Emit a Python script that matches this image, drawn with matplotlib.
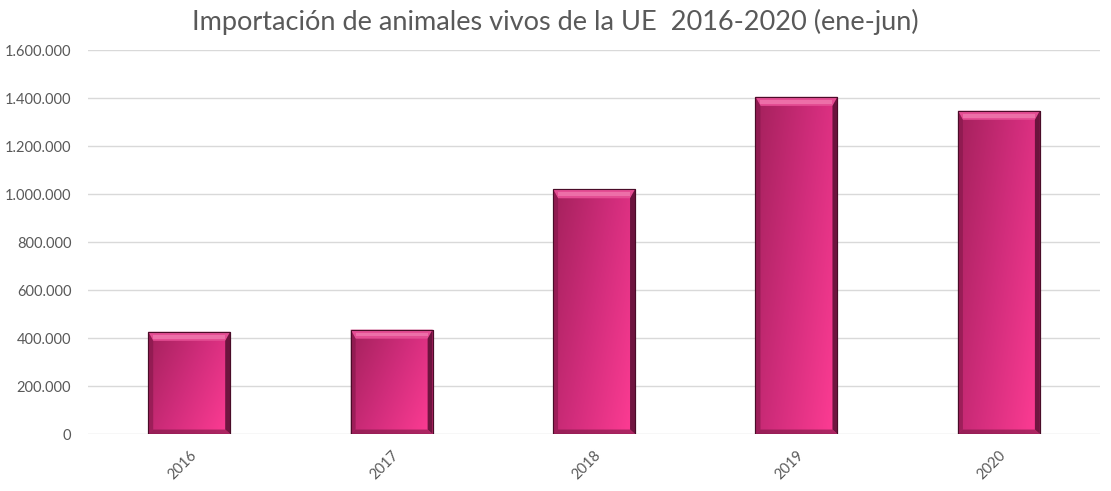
import matplotlib.pyplot as plt
import numpy as np
from matplotlib.colors import LinearSegmentedColormap
from matplotlib.patches import Polygon, Rectangle
from matplotlib.ticker import FuncFormatter

years = ["2016", "2017", "2018", "2019", "2020"]
imports = [426000, 435000, 1020000, 1405000, 1347000]
y_ticks = [0, 200000, 400000, 600000, 800000, 1000000, 1200000, 1400000, 1600000]

TITLE = "Importación de animales vivos de la UE  2016-2020 (ene-jun)"
GREY = "#595959"
BAR_W = 0.405

plt.rcParams["font.family"] = ["Lato", "DejaVu Sans"]

fig = plt.figure(figsize=(11.11, 4.91), dpi=100)
ax = fig.add_axes([0.0792, 0.116, 0.911, 0.782])

x = np.arange(len(years))
bars = ax.bar(x, imports, width=BAR_W, color="#d8307f",
              edgecolor="#4a0c28", linewidth=0.8, zorder=2)

# gradient fill clipped to each bar (darker left -> bright right, brighter low)
cmap = LinearSegmentedColormap.from_list("pink", ["#a8225f", "#d22d7c", "#fb3b92"])
gx = np.linspace(0, 1, 64)
gy = np.linspace(0, 1, 64)
GX, GY = np.meshgrid(gx, gy)
grad = np.clip(0.7 * GX + 0.4 * GY - 0.05, 0, 1)

px_to_y = 1600000 / 384.0
px_to_x = len(years) / 1012.0
for rect in bars:
    x0, w, h = rect.get_x(), rect.get_width(), rect.get_height()
    im = ax.imshow(grad, cmap=cmap, origin="upper", aspect="auto",
                   extent=[x0, x0 + w, 0, h], zorder=2.1, interpolation="bicubic")
    im.set_clip_path(rect)
    bh = 9 * px_to_y
    bw = 5 * px_to_x
    # top bevel
    ax.add_patch(Polygon([[x0, h], [x0 + w, h], [x0 + w - bw, h - bh], [x0 + bw, h - bh]],
                         closed=True, facecolor="#e44d93", edgecolor="none", zorder=2.2))
    ax.add_patch(Polygon([[x0 + bw, h - 0.35 * bh], [x0 + w - bw, h - 0.35 * bh],
                          [x0 + w - bw, h - 0.75 * bh], [x0 + bw, h - 0.75 * bh]],
                         closed=True, facecolor="#f58cbb", edgecolor="none", alpha=0.55, zorder=2.2))
    # left and right bevels
    ax.add_patch(Polygon([[x0, h], [x0 + bw, h - bh], [x0 + bw, 0.5 * bh], [x0, 0]],
                         closed=True, facecolor="#7e1646", edgecolor="none", alpha=0.55, zorder=2.2))
    ax.add_patch(Polygon([[x0 + w, h], [x0 + w - bw, h - bh], [x0 + w - bw, 0.5 * bh], [x0 + w, 0]],
                         closed=True, facecolor="#4e0c2c", edgecolor="none", alpha=0.8, zorder=2.2))
    # bottom bevel
    ax.add_patch(Polygon([[x0, 0], [x0 + w, 0], [x0 + w - bw, 0.5 * bh], [x0 + bw, 0.5 * bh]],
                         closed=True, facecolor="#7a1844", edgecolor="none", alpha=0.6, zorder=2.2))
    ax.add_patch(Rectangle((x0, 0), w, h, facecolor="none",
                           edgecolor="#4a0c28", linewidth=0.8, zorder=2.3))

ax.set_xlim(-0.5, len(years) - 0.5)
ax.set_ylim(0, 1600000)
ax.set_yticks(y_ticks)
ax.yaxis.set_major_formatter(FuncFormatter(lambda v, p: f"{int(v):,}".replace(",", ".")))
ax.set_xticks(x)
ax.set_xticklabels(years, rotation=45, ha="right", rotation_mode="anchor")
ax.tick_params(axis="both", length=0, colors=GREY, labelsize=10.5)
ax.tick_params(axis="y", pad=12)
ax.tick_params(axis="x", pad=10)
ax.grid(axis="y", color="#d9d9d9", linewidth=1, zorder=0)
ax.set_axisbelow(True)
for s in ax.spines.values():
    s.set_visible(False)

fig.text(0.5, 0.955, TITLE, ha="center", va="center", fontsize=19.5, color=GREY)

fig.savefig("out.png", dpi=100)
